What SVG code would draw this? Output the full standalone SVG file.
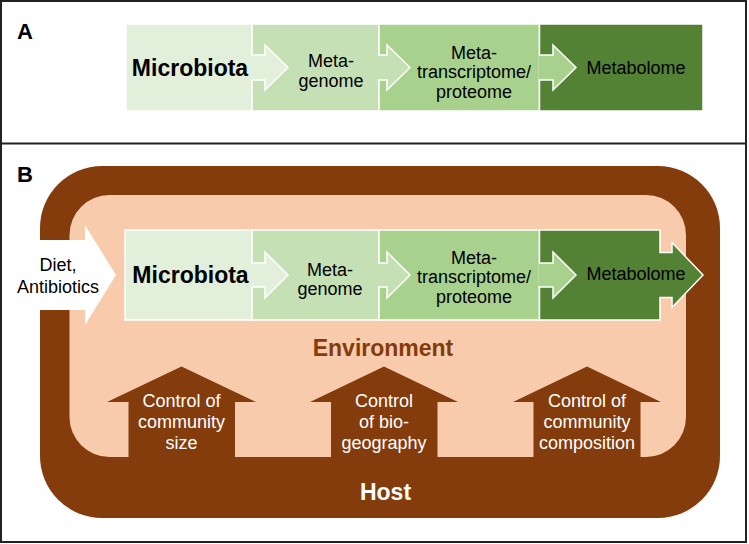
<svg xmlns="http://www.w3.org/2000/svg" width="749" height="544" viewBox="0 0 749 544">
<style>
text{font-family:"Liberation Sans",Arial,Helvetica,sans-serif;text-anchor:middle}
.lbl{font-size:18px;fill:#000}
.bold{font-weight:bold;font-size:23px}
.wt{font-size:18px;fill:#fff}
.panel{font-weight:bold;font-size:22px;text-anchor:start;fill:#000}
.box{stroke:#fff;stroke-width:1.5}
.c1{fill:#E2EFDA}.c2{fill:#C5E0B4}.c3{fill:#A9D18E}.c4{fill:#548235}
.conn{stroke:#fff;stroke-width:1.5;stroke-linejoin:miter}
.host{fill:#843C0C}
.env{fill:#F8CBAD}
</style>
<rect x="0" y="0" width="749" height="544" fill="#fff"/>
<rect x="1" y="1" width="745" height="541" fill="none" stroke="#222" stroke-width="2"/>
<line x1="1" y1="143.5" x2="746" y2="143.5" stroke="#222" stroke-width="2"/>

<!-- Panel A -->
<text class="panel" x="17" y="39">A</text>
<g id="a-microbiota"><rect class="box c1" x="126" y="24" width="126" height="87"/><text class="bold" x="190" y="76">Microbiota</text></g>
<g id="a-metagenome"><rect class="box c2" x="252" y="24" width="127" height="87"/><text class="lbl" x="331" y="67">Meta-</text><text class="lbl" x="331" y="86.5">genome</text></g>
<g id="a-metatranscriptome"><rect class="box c3" x="379" y="24" width="160.5" height="87"/><text class="lbl" x="474" y="58.5">Meta-</text><text class="lbl" x="474" y="78">transcriptome/</text><text class="lbl" x="474" y="97.5">proteome</text></g>
<g id="a-metabolome"><rect class="box c4" x="539.5" y="24" width="163.5" height="87"/><text class="lbl" x="636" y="74">Metabolome</text></g>

<!-- Panel B -->
<text class="panel" x="17" y="182">B</text>
<g id="b-host"><rect class="host" x="40" y="166" width="680" height="352" rx="62" ry="62"/><text class="bold" x="385.5" y="500" fill="#fff">Host</text></g>
<g id="b-environment"><rect class="env" x="69.5" y="195" width="616.5" height="262" rx="40" ry="40"/><text class="bold" x="383" y="356" fill="#843C0C">Environment</text></g>

<g id="b-control-size"><polygon class="host" points="128.5,458 128.5,402 107,402 181.5,366.5 256,402 235,402 235,458"/><text class="wt" x="181.5" y="406.5">Control of</text><text class="wt" x="181.5" y="427.5">community</text><text class="wt" x="181.5" y="448.5">size</text></g>
<g id="b-control-biogeography"><polygon class="host" points="331,458 331,402 310,402 384,366.5 458,402 437.5,402 437.5,458"/><text class="wt" x="384" y="406.5">Control</text><text class="wt" x="384" y="427.5">of bio-</text><text class="wt" x="384" y="448.5">geography</text></g>
<g id="b-control-composition"><polygon class="host" points="533.5,458 533.5,402 513,402 587,366.5 661,402 640.5,402 640.5,458"/><text class="wt" x="587" y="406.5">Control of</text><text class="wt" x="587" y="427.5">community</text><text class="wt" x="587" y="448.5">composition</text></g>

<g id="b-microbiota"><rect class="box c1" x="125" y="230" width="127" height="90"/><text class="bold" x="190.5" y="283">Microbiota</text></g>
<g id="b-metagenome"><rect class="box c2" x="252" y="230" width="127" height="90"/><text class="lbl" x="330" y="275.5">Meta-</text><text class="lbl" x="330" y="295">genome</text></g>
<g id="b-metatranscriptome"><rect class="box c3" x="379" y="230" width="160.5" height="90"/><text class="lbl" x="474" y="263.5">Meta-</text><text class="lbl" x="474" y="283">transcriptome/</text><text class="lbl" x="474" y="302.5">proteome</text></g>
<g id="b-metabolome"><path class="box c4" d="M539.5,230 H660 V252.5 H672 V242.5 L703,275 L672,307.5 V297.5 H660 V320 H539.5 Z"/><text class="lbl" x="636" y="280">Metabolome</text></g>

<g id="b-diet"><polygon fill="#fff" points="30,240 85,240 85,225 116,275 85,325 85,310 30,310"/><text class="lbl" x="58" y="271">Diet,</text><text class="lbl" x="58" y="293">Antibiotics</text></g>

<g id="connectors">
<path class="conn c1" d="M251,55 H265 V45 L288,67.5 L265,90 V80 H251"/>
<path class="conn c2" d="M378,55 H387 V45 L410,67.5 L387,90 V80 H378"/>
<path class="conn c3" d="M538.5,55 H553 V45 L576,67.5 L553,90 V80 H538.5"/>
<path class="conn c1" d="M251,263 H265 V252 L288,275 L265,298 V287 H251"/>
<path class="conn c2" d="M378,263 H387 V252 L410,275 L387,298 V287 H378"/>
<path class="conn c3" d="M538.5,263 H553 V252 L576,275 L553,298 V287 H538.5"/>
</g>
</svg>
